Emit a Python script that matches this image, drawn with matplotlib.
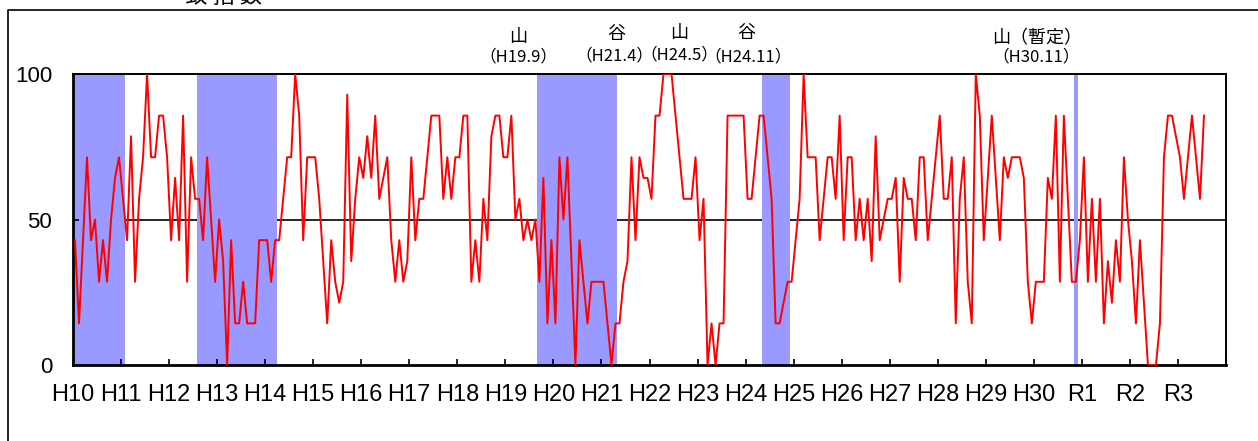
import matplotlib
matplotlib.use('Agg')
import matplotlib.pyplot as plt
from matplotlib import font_manager
from matplotlib.lines import Line2D
import numpy as np

# monthly DI values, one list per year, starting H10.1
di_h10 = [42.9, 14.3, 42.9, 71.4, 42.9, 50.0, 28.6, 42.9, 28.6, 50.0, 64.3, 71.4]
di_h11 = [57.1, 42.9, 78.6, 28.6, 57.1, 71.4, 100.0, 71.4, 71.4, 85.7, 85.7, 71.4]
di_h12 = [42.9, 64.3, 42.9, 85.7, 28.6, 71.4, 57.1, 57.1, 42.9, 71.4, 50.0, 28.6]
di_h13 = [50.0, 35.7, 0.0, 42.9, 14.3, 14.3, 28.6, 14.3, 14.3, 14.3, 42.9, 42.9]
di_h14 = [42.9, 28.6, 42.9, 42.9, 57.1, 71.4, 71.4, 100.0, 85.7, 42.9, 71.4, 71.4]
di_h15 = [71.4, 57.1, 35.7, 14.3, 42.9, 28.6, 21.4, 28.6, 92.9, 35.7, 57.1, 71.4]
di_h16 = [64.3, 78.6, 64.3, 85.7, 57.1, 64.3, 71.4, 42.9, 28.6, 42.9, 28.6, 35.7]
di_h17 = [71.4, 42.9, 57.1, 57.1, 71.4, 85.7, 85.7, 85.7, 57.1, 71.4, 57.1, 71.4]
di_h18 = [71.4, 85.7, 85.7, 28.6, 42.9, 28.6, 57.1, 42.9, 78.6, 85.7, 85.7, 71.4]
di_h19 = [71.4, 85.7, 50.0, 57.1, 42.9, 50.0, 42.9, 50.0, 28.6, 64.3, 14.3, 42.9]
di_h20 = [14.3, 71.4, 50.0, 71.4, 35.7, 0.0, 42.9, 28.6, 14.3, 28.6, 28.6, 28.6]
di_h21 = [28.6, 14.3, 0.0, 14.3, 14.3, 28.6, 35.7, 71.4, 42.9, 71.4, 64.3, 64.3]
di_h22 = [57.1, 85.7, 85.7, 100.0, 100.0, 100.0, 85.7, 71.4, 57.1, 57.1, 57.1, 71.4]
di_h23 = [42.9, 57.1, 0.0, 14.3, 0.0, 14.3, 14.3, 85.7, 85.7, 85.7, 85.7, 85.7]
di_h24 = [57.1, 57.1, 71.4, 85.7, 85.7, 71.4, 57.1, 14.3, 14.3, 21.4, 28.6, 28.6]
di_h25 = [42.9, 57.1, 100.0, 71.4, 71.4, 71.4, 42.9, 57.1, 71.4, 71.4, 57.1, 85.7]
di_h26 = [42.9, 71.4, 71.4, 42.9, 57.1, 42.9, 57.1, 35.7, 78.6, 42.9, 50.0, 57.1]
di_h27 = [57.1, 64.3, 28.6, 64.3, 57.1, 57.1, 42.9, 71.4, 71.4, 42.9, 57.1, 71.4]
di_h28 = [85.7, 57.1, 57.1, 71.4, 14.3, 57.1, 71.4, 28.6, 14.3, 100.0, 85.7, 42.9]
di_h29 = [64.3, 85.7, 64.3, 42.9, 71.4, 64.3, 71.4, 71.4, 71.4, 64.3, 28.6, 14.3]
di_h30 = [28.6, 28.6, 28.6, 64.3, 57.1, 85.7, 28.6, 85.7, 57.1, 28.6, 28.6, 42.9]
di_r1 = [71.4, 28.6, 57.1, 28.6, 57.1, 14.3, 35.7, 21.4, 42.9, 28.6, 71.4, 50.0]
di_r2 = [35.7, 14.3, 42.9, 21.4, 0.0, 0.0, 0.0, 14.3, 71.4, 85.7, 85.7, 78.6]
di_r3 = [71.4, 57.1, 71.4, 85.7, 71.4, 57.1, 85.7]

year_labels = ['H10', 'H11', 'H12', 'H13', 'H14', 'H15', 'H16', 'H17', 'H18', 'H19',
               'H20', 'H21', 'H22', 'H23', 'H24', 'H25', 'H26', 'H27', 'H28', 'H29',
               'H30', 'R1', 'R2', 'R3']

# recession periods (first month, last month), counted from H10.1
recessions = [(0, 12), (31, 50), (116, 135), (172, 178), (250, 250)]

turn_marks = ['山', '谷', '山', '谷', '山（暫定）']
turn_dates = ['（H19.9）', '（H21.4）', '（H24.5）', '（H24.11）', '（H30.11）']

di = np.array(di_h10 + di_h11 + di_h12 + di_h13 + di_h14 + di_h15 + di_h16 + di_h17
              + di_h18 + di_h19 + di_h20 + di_h21 + di_h22 + di_h23 + di_h24 + di_h25
              + di_h26 + di_h27 + di_h28 + di_h29 + di_h30 + di_r1 + di_r2 + di_r3)
months = np.arange(len(di))


def pick_font(names):
    for n in names:
        try:
            font_manager.findfont(n, fallback_to_default=False)
            return n
        except ValueError:
            pass
    return None


narrow = pick_font(['Liberation Sans Narrow'])
if narrow:
    tick_font, xsize, ysize = narrow, 20, 18
else:
    tick_font, xsize, ysize = 'Liberation Sans', 17, 16
cjk = ['Noto Sans CJK JP', 'DejaVu Sans']

W, H = 1258, 441
fig = plt.figure(figsize=(W / 100, H / 100), dpi=100)
ax = fig.add_axes([73 / W, 1 - 365 / H, (1226 - 73) / W, (365 - 74) / H])

ax.axhline(50, color='black', lw=1.2, zorder=0.5)
for a, b in recessions:
    ax.axvspan(a - 0.5, b + 0.5, color='#9999ff', lw=0, zorder=1)
ax.plot(months, di, color='red', lw=1.4, zorder=3)

ax.set_xlim(-0.5, 287.5)
ax.set_ylim(0, 100)
ax.set_xticks(np.arange(25) * 12 - 0.5)
ax.set_xticklabels(year_labels + [''], family=tick_font, fontsize=xsize)
ax.set_yticks([0, 50, 100])
ax.set_yticklabels(['0', '50', '100'], family=tick_font, fontsize=ysize)
ax.tick_params(axis='x', direction='in', length=4.5, width=1.2, pad=14)
ax.tick_params(axis='y', direction='in', length=4, width=1.2, pad=15)
for s in ax.spines.values():
    s.set_linewidth(1.4)
ax.spines['left'].set_linewidth(2)
ax.spines['bottom'].set_linewidth(2)

# peak / trough notes above the plot
mark_x = [518, 616, 679, 746, 1037]
mark_y = [37, 34, 33, 33, 38]
date_x = [518, 614, 679, 748, 1036]
date_y = [57, 56, 55, 57, 57]
for i in range(len(turn_marks)):
    fig.text(mark_x[i] / W, 1 - mark_y[i] / H, turn_marks[i], family=cjk,
             fontsize=13, ha='center', va='center')
    fig.text(date_x[i] / W, 1 - date_y[i] / H, turn_dates[i], family=cjk,
             fontsize=12, ha='center', va='center')

# title (mostly cut off at the top edge) and outer frame
fig.text(210 / W, 1 - 3 / H, '一 致 指 数', family=cjk, fontsize=16,
         ha='center', va='baseline')
fig.add_artist(Line2D([8 / W, 8 / W, 1.0], [0.0, 1 - 10 / H, 1 - 10 / H],
                      transform=fig.transFigure, color='black', lw=1.2))

fig.savefig('out.png', dpi=100)
